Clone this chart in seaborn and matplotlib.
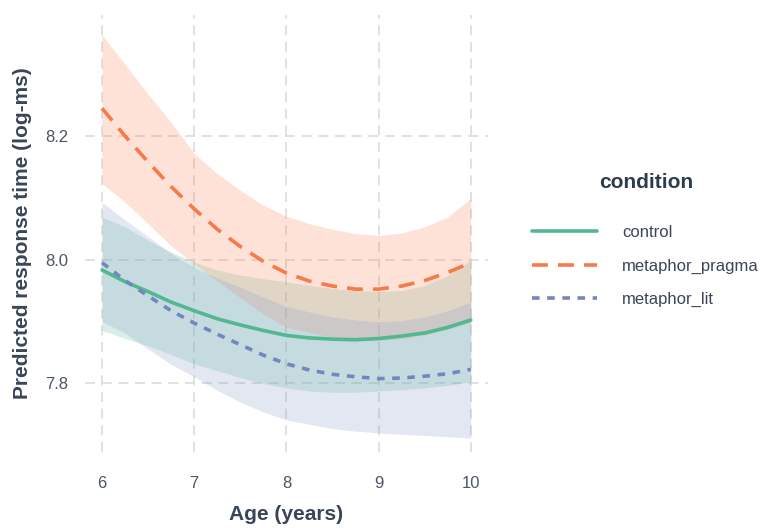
import numpy as np
import pandas as pd
import matplotlib
matplotlib.use("Agg")
import matplotlib.pyplot as plt
from matplotlib.lines import Line2D
import seaborn as sns

# valores (cada 0.25 anios)
age = [6, 6.25, 6.5, 6.75, 7, 7.25, 7.5, 7.75, 8,
       8.25, 8.5, 8.75, 9, 9.25, 9.5, 9.75, 10]

control_fit = [7.983, 7.964, 7.948, 7.931, 7.917, 7.904, 7.894, 7.885, 7.877,
               7.873, 7.871, 7.870, 7.872, 7.876, 7.881, 7.890, 7.902]
control_lo = [7.885, 7.872, 7.860, 7.846, 7.831, 7.820, 7.809, 7.799, 7.792,
              7.787, 7.785, 7.785, 7.787, 7.789, 7.792, 7.796, 7.802]
control_hi = [8.069, 8.053, 8.031, 8.012, 7.996, 7.983, 7.975, 7.969, 7.964,
              7.958, 7.953, 7.950, 7.948, 7.950, 7.958, 7.974, 7.999]

pragma_fit = [8.245, 8.200, 8.158, 8.118, 8.082, 8.049, 8.021, 7.997, 7.978,
              7.965, 7.957, 7.952, 7.952, 7.957, 7.966, 7.979, 7.995]
pragma_lo = [8.123, 8.093, 8.058, 8.022, 7.993, 7.965, 7.938, 7.912, 7.890,
             7.882, 7.874, 7.871, 7.869, 7.872, 7.878, 7.887, 7.898]
pragma_hi = [8.364, 8.316, 8.268, 8.222, 8.172, 8.139, 8.112, 8.088, 8.070,
             8.058, 8.049, 8.042, 8.039, 8.043, 8.053, 8.069, 8.099]

lit_fit = [7.995, 7.966, 7.941, 7.917, 7.897, 7.879, 7.862, 7.845, 7.831,
           7.821, 7.814, 7.810, 7.807, 7.808, 7.811, 7.815, 7.822]
lit_lo = [7.899, 7.881, 7.855, 7.830, 7.810, 7.788, 7.769, 7.753, 7.740,
          7.733, 7.726, 7.722, 7.719, 7.717, 7.715, 7.713, 7.711]
lit_hi = [8.093, 8.064, 8.037, 8.010, 7.987, 7.970, 7.955, 7.939, 7.924,
          7.915, 7.907, 7.902, 7.899, 7.901, 7.907, 7.917, 7.931]

condiciones = ['control', 'metaphor_pragma', 'metaphor_lit']

sns.set_theme(style='white')
plt.rcParams['font.family'] = ['Liberation Sans', 'DejaVu Sans']

df = pd.DataFrame({
    'age': age * 3,
    'fit': control_fit + pragma_fit + lit_fit,
    'lo': control_lo + pragma_lo + lit_lo,
    'hi': control_hi + pragma_hi + lit_hi,
    'condition': sum([[c] * len(age) for c in condiciones], []),
})

lineas = {'control': '#52b88f', 'metaphor_pragma': '#f77a48', 'metaphor_lit': '#7486c0'}
rellenos = {'control': '#66c2a5', 'metaphor_pragma': '#fc8d62', 'metaphor_lit': '#8da0cb'}
guiones = {'control': '', 'metaphor_pragma': (4.4, 2.8), 'metaphor_lit': (2.1, 2.1)}

fig = plt.figure(figsize=(7.63, 5.30), dpi=100)
ax = fig.add_axes([0.111, 0.147, 0.529, 0.8245])

# bandas de confianza
for c in condiciones:
    d = df[df['condition'] == c]
    ax.fill_between(d['age'], d['lo'], d['hi'], color=rellenos[c], alpha=0.25, lw=0)

sns.lineplot(data=df, x='age', y='fit', hue='condition', style='condition',
             palette=lineas, dashes=guiones, linewidth=2.6, legend=False, ax=ax)

ax.set_xlim(5.812, 10.19)
ax.set_ylim(7.688, 8.396)
ax.set_xticks([6, 7, 8, 9, 10])
ax.set_yticks([7.8, 8.0, 8.2])
ax.set_yticklabels(['7.8', '8.0', '8.2'])
ax.grid(True, color='#dcdcdc', linestyle=(0, (6, 4)), linewidth=1.2)
for s in ax.spines.values():
    s.set_visible(False)
ax.tick_params(colors='#4a5566', labelsize=12, length=0)
ax.tick_params(axis='x', pad=17)
ax.tick_params(axis='y', pad=12)
ax.set_xlabel('Age (years)', fontsize=15, fontweight='bold', color='#3a4658', labelpad=10)
ax.set_ylabel('Predicted response time (log-ms)', fontsize=15, fontweight='bold',
              color='#3a4658', labelpad=9)

handles = [Line2D([], [], color=lineas[c], lw=2.6,
                  dashes=guiones[c] if guiones[c] else (None, None)) for c in condiciones]
leg = fig.legend(handles, condiciones, title='condition', loc='center left',
                 bbox_to_anchor=(0.678, 0.547), frameon=False, fontsize=12,
                 handlelength=3.9, handletextpad=1.5, labelspacing=1.1,
                 title_fontproperties={'weight': 'bold', 'size': 15})
leg.get_title().set_color('#2f3b4c')
for t in leg.get_texts():
    t.set_color('#3a4658')
leg._legend_box.sep = 24

fig.savefig('out.png', dpi=100)
